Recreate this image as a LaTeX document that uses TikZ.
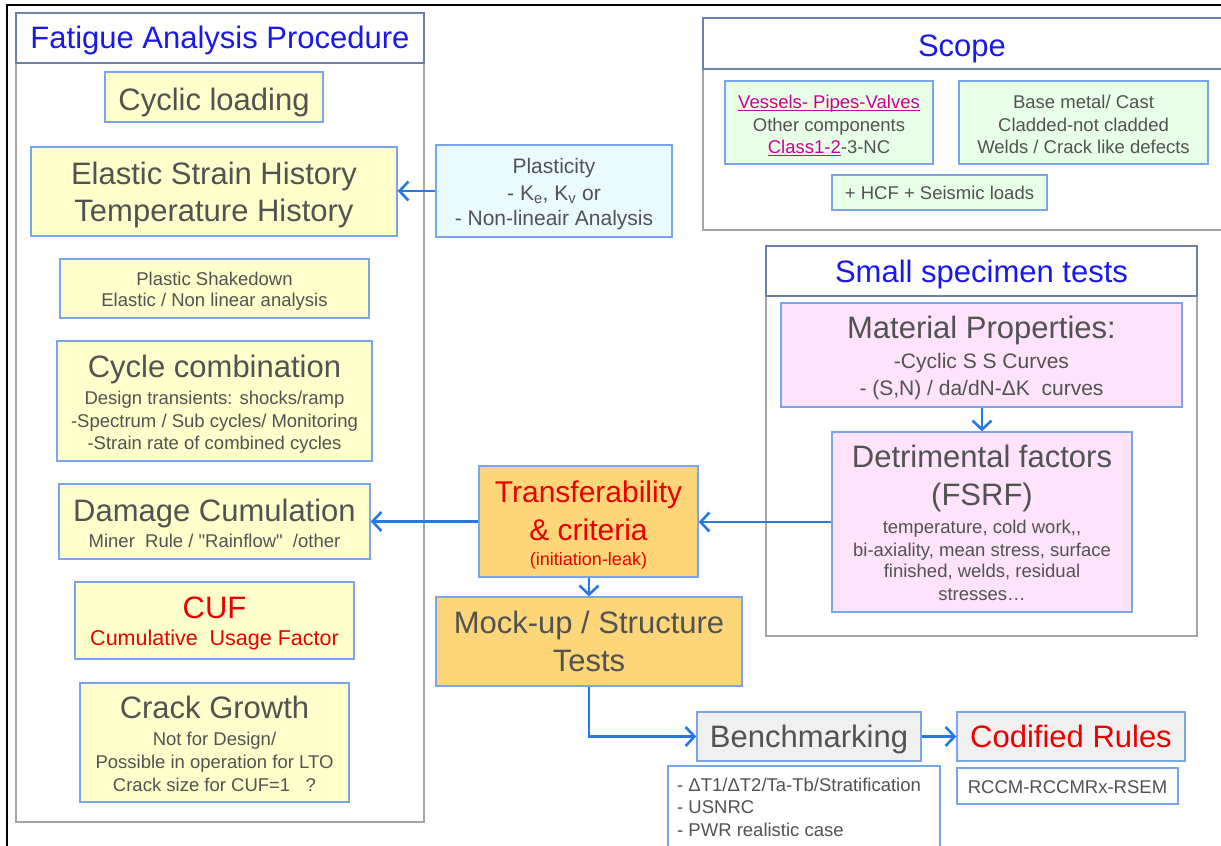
\documentclass[tikz,border=0pt]{standalone}
\usepackage{fontspec}
\setmainfont{Liberation Sans}
\newfontfamily\nomapfont{Liberation Sans}
\usetikzlibrary{arrows.meta}
\definecolor{bxblue}{RGB}{120,165,235}
\definecolor{yfill}{RGB}{255,255,204}
\definecolor{tgray}{RGB}{82,82,82}
\definecolor{ttl}{RGB}{25,25,235}
\definecolor{pgray}{RGB}{165,165,165}
\definecolor{slate}{RGB}{110,128,170}
\definecolor{cyanf}{RGB}{234,251,255}
\definecolor{greenf}{RGB}{232,255,232}
\definecolor{pinkf}{RGB}{255,226,252}
\definecolor{orangef}{RGB}{252,214,120}
\definecolor{grayf}{RGB}{240,240,240}
\definecolor{ablue}{RGB}{40,120,228}
\definecolor{tred}{RGB}{235,0,0}
\definecolor{mag}{RGB}{204,0,153}
\newcommand\mkbox[6]{\node[#2, minimum width={#5-#3}, minimum height={#6-#4}] (#1) at ({(#3+#5)/2},{(#4+#6)/2}) {};}
\newcommand\sq{{\nomapfont"}}
\newcommand\myul[1]{\setbox0\hbox{#1}\rlap{\rule[-2.6pt]{\wd0}{1.1pt}}\box0}
\tikzset{
  box/.style={draw=bxblue, line width=1.3pt, inner sep=0pt, rectangle},
  ybox/.style={box, fill=yfill},
  cbox/.style={box, fill=cyanf},
  gbox/.style={box, fill=greenf},
  pbox/.style={box, fill=pinkf},
  obox/.style={box, fill=orangef},
  grbox/.style={box, fill=grayf},
  wbox/.style={box, fill=white},
  panelbody/.style={draw=pgray, line width=1.8pt, fill=white, inner sep=0pt, rectangle},
  paneltitle/.style={draw=slate, line width=1.8pt, fill=white, inner sep=0pt, rectangle},
  big/.style={font=\fontsize{31}{37}\selectfont, text=tgray, anchor=base, inner sep=0pt},
  ttltxt/.style={big, text=ttl},
  sub/.style={font=\fontsize{18.5}{22}\selectfont, text=tgray, anchor=base, inner sep=0pt},
  mid/.style={font=\fontsize{21}{25}\selectfont, text=tgray, anchor=base, inner sep=0pt},
  arr/.style={draw=ablue, line width=2.6pt, -{Straight Barb[length=9pt,width=19pt,line width=2.6pt]}},
}
\begin{document}
\begin{tikzpicture}[x=1pt,y=-1pt]
\useasboundingbox (0,0) rectangle (1221,846);
\clip (0,0) rectangle (1221,846);
% outer frame (top and left edges visible)
\draw[black, line width=1.5pt] (7,846) -- (7,5) -- (1230,5);

% ===== Left panel =====
\mkbox{fapBody}{panelbody}{16}{13}{424}{822}
\mkbox{fapTitle}{paneltitle}{16}{13}{424}{63}
\node[ttltxt] (fapT) at (220,48) {Fatigue Analysis Procedure};

\mkbox{cyc}{ybox}{105}{72}{323}{122}
\node[big] (cycT) at (214,110) {Cyclic loading};

\mkbox{ela}{ybox}{31}{147}{397}{236}
\node[big] (elaT1) at (214,184) {Elastic Strain History};
\node[big] (elaT2) at (214,221) {Temperature History};

\mkbox{psd}{ybox}{60}{259}{369}{318}
\node[sub] (psdT1) at (214.5,285) {Plastic Shakedown};
\node[sub] (psdT2) at (214.5,306) {Elastic / Non linear analysis};

\mkbox{ccb}{ybox}{57}{341}{372}{461}
\node[big] (ccbT) at (214.5,377) {Cycle combination};
\node[sub] (ccbS1) at (214.5,404) {Design transients: shocks/ramp};
\node[sub] (ccbS2) at (214.5,427) {-Spectrum / Sub cycles/ Monitoring};
\node[sub] (ccbS3) at (214.5,449) {-Strain rate of combined cycles};

\mkbox{dmg}{ybox}{59}{484}{370}{559}
\node[big] (dmgT) at (214.5,521) {Damage Cumulation};
\node[sub] (dmgS) at (214.5,547) {Miner\ \ Rule / \sq Rainflow\sq\ \ /other};

\mkbox{cuf}{ybox}{75}{582}{354}{659}
\node[big, text=tred] (cufT) at (214.5,618) {CUF};
\node[font=\fontsize{21.5}{25}\selectfont, text=tred, anchor=base, inner sep=0pt] (cufS) at (214.5,645) {Cumulative\ \ Usage Factor};

\mkbox{crk}{ybox}{80}{683}{349}{802}
\node[big] (crkT) at (214.5,718) {Crack Growth};
\node[sub] (crkS1) at (214.5,745) {Not for Design/};
\node[sub] (crkS2) at (214.5,768) {Possible in operation for LTO};
\node[sub] (crkS3) at (214.5,791) {Crack size for CUF=1\ \ \ ?};

% ===== Plasticity =====
\mkbox{pla}{cbox}{436}{145}{672}{237}
\node[mid] (plaT1) at (554,173) {Plasticity};
\node[mid] (plaT2) at (554,200) {- K\textsubscript{e}, K\textsubscript{v} or};
\node[mid] (plaT3) at (554,225) {- Non-lineair Analysis};

% ===== Scope panel =====
\mkbox{scoBody}{panelbody}{703}{18}{1232}{230}
\mkbox{scoTitle}{paneltitle}{703}{18}{1232}{69}
\node[ttltxt] (scoT) at (962,56) {Scope};

\mkbox{sc1}{gbox}{725}{81}{933}{164}
\node[sub, text=mag] (sc1T1) at (829,108) {\myul{Vessels- Pipes-Valves}};
\node[sub] (sc1T2) at (829,131) {Other components};
\node[sub] (sc1T3) at (829,153) {{\color{mag}\myul{Class1-2}}-3-NC};

\mkbox{sc2}{gbox}{959}{81}{1208}{164}
\node[sub] (sc2T1) at (1083.5,108) {Base metal/ Cast};
\node[sub] (sc2T2) at (1083.5,131) {Cladded-not cladded};
\node[sub] (sc2T3) at (1083.5,153) {Welds / Crack like defects};

\mkbox{sc3}{gbox}{832}{175}{1047}{210}
\node[sub] (sc3T) at (939.5,199) {+ HCF + Seismic loads};

% ===== Small specimen tests panel =====
\mkbox{sstBody}{panelbody}{766}{246}{1197}{636}
\mkbox{sstTitle}{paneltitle}{766}{246}{1197}{296}
\node[ttltxt] (sstT) at (981.5,282) {Small specimen tests};

\mkbox{mat}{pbox}{781}{303}{1182}{407}
\node[big] (matT) at (981.5,338) {Material Properties:};
\node[mid] (matS1) at (981.5,368) {-Cyclic S S Curves};
\node[mid] (matS2) at (981.5,395) {- (S,N) / da/dN-ΔK\ \ curves};

\mkbox{det}{pbox}{832}{432}{1132}{612}
\node[big] (detT1) at (982,467) {Detrimental factors};
\node[big] (detT2) at (982,505) {(FSRF)};
\node[sub] (detS1) at (982,533) {temperature, cold work,{},};
\node[sub] (detS2) at (982,556) {bi-axiality, mean stress, surface};
\node[sub] (detS3) at (982,577) {finished, welds, residual};
\node[sub] (detS4) at (982,600) {stresses\dots};

% ===== Centre column =====
\mkbox{tra}{obox}{479}{466}{698}{577}
\node[big, text=tred, font=\fontsize{30}{36}\selectfont] (traT1) at (588.5,502) {Transferability};
\node[big, text=tred, font=\fontsize{30}{36}\selectfont] (traT2) at (588.5,540) {\& criteria};
\node[sub, text=tred, font=\fontsize{18}{22}\selectfont] (traS) at (588.5,565) {(initiation-leak)};

\mkbox{mck}{obox}{436}{597}{742}{686}
\node[big] (mckT1) at (589,633) {Mock-up / Structure};
\node[big] (mckT2) at (589,671) {Tests};

\mkbox{ben}{grbox}{697}{712}{921}{761}
\node[big] (benT) at (809,747) {Benchmarking};

\mkbox{cod}{grbox}{957}{712}{1185}{761}
\node[big, text=tred] (codT) at (1071,747) {Codified Rules};

\mkbox{bsub}{wbox}{668}{766}{940}{856}
\node[sub, anchor=base west] (bsubT1) at (677,791) {- ΔT1/ΔT2/Ta-Tb/Stratification};
\node[sub, anchor=base west] (bsubT2) at (677,813) {- USNRC};
\node[sub, anchor=base west] (bsubT3) at (677,836) {- PWR realistic case};

\mkbox{rcc}{wbox}{957}{768}{1178}{804}
\node[sub] (rccT) at (1067.5,793) {RCCM-RCCMRx-RSEM};

% ===== Connectors =====
\draw[arr] (pla.west) -- (pla.west -| ela.east);
\draw[arr] (tra.west) -- (tra.west -| dmg.east);
\draw[arr] (det.west) -- (det.west -| tra.east);
\draw[arr] (mat.south -| det.north) -- (det.north);
\draw[arr] (tra.south -| mck.north) -- (mck.north);
\draw[arr] (mck.south) |- (ben.west);
\draw[arr] (ben.east) -- (cod.west);
\end{tikzpicture}
\end{document}
